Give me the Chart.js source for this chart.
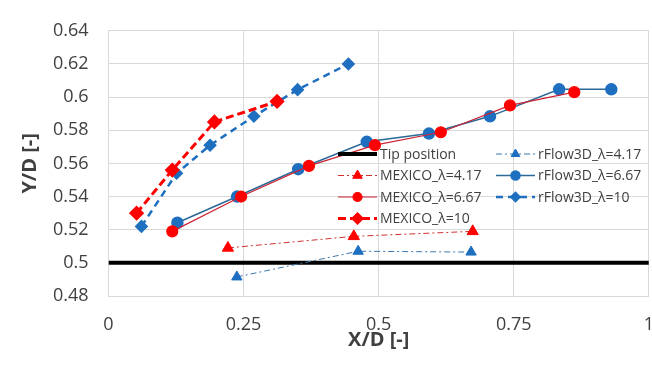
<!DOCTYPE html>
<html>
<head>
<meta charset="utf-8">
<script src="https://cdn.jsdelivr.net/npm/chart.js@4/dist/chart.umd.min.js"></script>
<style>
  html, body { margin: 0; padding: 0; background: #fff; overflow: hidden; }
  #wrap { width: 672px; height: 371px; position: relative; }
</style>
</head>
<body>
<div id="wrap"><canvas id="chart"></canvas></div>
<script>
// axis ticks
const xTicks = [0, 0.25, 0.5, 0.75, 1];
const yTicks = [0.48, 0.5, 0.52, 0.54, 0.56, 0.58, 0.6, 0.62, 0.64];

// tip position
const tipX = [0, 1];
const tipY = [0.5, 0.5];

// MEXICO measurements
const mexico417X = [0.221, 0.454, 0.674];
const mexico417Y = [0.509, 0.516, 0.519];
const mexico667X = [0.118, 0.2455, 0.371, 0.493, 0.615, 0.743, 0.862];
const mexico667Y = [0.519, 0.540, 0.5585, 0.571, 0.5788, 0.595, 0.603];
const mexico10X = [0.052, 0.118, 0.196, 0.312];
const mexico10Y = [0.530, 0.556, 0.585, 0.5974];

// rFlow3D results
const rflow417X = [0.2375, 0.462, 0.671];
const rflow417Y = [0.4915, 0.507, 0.5065];
const rflow667X = [0.1275, 0.238, 0.351, 0.478, 0.593, 0.706, 0.834, 0.9305];
const rflow667Y = [0.5242, 0.540, 0.5565, 0.573, 0.578, 0.5884, 0.6047, 0.6047];
const rflow10X = [0.061, 0.126, 0.188, 0.269, 0.350, 0.444];
const rflow10Y = [0.522, 0.554, 0.571, 0.5884, 0.6045, 0.620];

const RED = '#ff0000';
const BLUE = '#1f6fc0';

const pts = (xs, ys) => xs.map((x, i) => ({ x: x, y: ys[i] }));

const datasets = [
  { label: 'MEXICO_\u03bb=10', data: pts(mexico10X, mexico10Y), borderColor: RED, borderWidth: 3,
    borderDash: [8, 4], pointStyle: 'rectRot', pointRadius: 5.5, pointBackgroundColor: RED, pointBorderColor: RED },
  { label: 'MEXICO_\u03bb=6.67', data: pts(mexico667X, mexico667Y), borderColor: '#cc2233', borderWidth: 1.2,
    pointStyle: 'circle', pointRadius: 5.5, pointBackgroundColor: RED, pointBorderColor: RED },
  { label: 'MEXICO_\u03bb=4.17', data: pts(mexico417X, mexico417Y), borderColor: '#d03030', borderWidth: 1,
    borderDash: [6, 3, 2, 3], pointStyle: 'triangle', pointRadius: 6.5, pointBackgroundColor: RED, pointBorderColor: RED },
  { label: 'rFlow3D_\u03bb=10', data: pts(rflow10X, rflow10Y), borderColor: BLUE, borderWidth: 2.5,
    borderDash: [7, 5], pointStyle: 'rectRot', pointRadius: 5, pointBackgroundColor: BLUE, pointBorderColor: BLUE },
  { label: 'rFlow3D_\u03bb=6.67', data: pts(rflow667X, rflow667Y), borderColor: '#2a6a98', borderWidth: 1.5,
    pointStyle: 'circle', pointRadius: 5.5, pointBackgroundColor: BLUE, pointBorderColor: BLUE },
  { label: 'rFlow3D_\u03bb=4.17', data: pts(rflow417X, rflow417Y), borderColor: '#3a78b0', borderWidth: 1,
    borderDash: [6, 3, 2, 3], pointStyle: 'triangle', pointRadius: 6, pointBackgroundColor: BLUE, pointBorderColor: BLUE },
  { label: 'Tip position', data: pts(tipX, tipY), borderColor: '#000', borderWidth: 4, pointRadius: 0 },
];

// legend slots: [label, column, row]
const legendSlots = [
  ['Tip position', 0, 0], ['MEXICO_\u03bb=4.17', 0, 1], ['MEXICO_\u03bb=6.67', 0, 2], ['MEXICO_\u03bb=10', 0, 3],
  ['rFlow3D_\u03bb=4.17', 1, 0], ['rFlow3D_\u03bb=6.67', 1, 1], ['rFlow3D_\u03bb=10', 1, 2],
];

const insideLegend = {
  id: 'insideLegend',
  afterDraw(chart) {
    const ctx = chart.ctx;
    const colX = [338, 496];
    const rowY = [154, 175.5, 197, 218.5];
    const sample = 39;
    ctx.save();
    ctx.font = '14px "Open Sans"';
    ctx.textBaseline = 'middle';
    legendSlots.forEach(([label, col, row]) => {
      const ds = chart.data.datasets.find(d => d.label === label);
      const x0 = colX[col], y = rowY[row];
      ctx.setLineDash(ds.borderDash || []);
      ctx.lineWidth = ds.borderWidth;
      ctx.strokeStyle = ds.borderColor;
      ctx.beginPath();
      ctx.moveTo(x0, y);
      ctx.lineTo(x0 + sample, y);
      ctx.stroke();
      ctx.setLineDash([]);
      if (ds.pointRadius > 0) {
        ctx.fillStyle = ds.pointBackgroundColor;
        ctx.strokeStyle = ds.pointBorderColor;
        Chart.helpers.drawPoint(ctx, { pointStyle: ds.pointStyle, radius: ds.pointRadius - 1, rotation: 0, borderWidth: 1 }, x0 + sample / 2, y);
      }
      ctx.fillStyle = '#404040';
      ctx.fillText(label, x0 + sample + 3, y + 1);
    });
    ctx.restore();
  }
};

new Chart(document.getElementById('chart').getContext('2d'), {
  type: 'line',
  data: { datasets: datasets },
  plugins: [insideLegend],
  options: {
    responsive: true,
    maintainAspectRatio: false,
    animation: false,
    layout: { padding: { top: 17, right: 5, left: 0, bottom: 0 } },
    plugins: { legend: { display: false }, tooltip: { enabled: false } },
    scales: {
      x: {
        type: 'linear', min: 0, max: 1,
        afterBuildTicks: s => { s.ticks = xTicks.map(v => ({ value: v })); },
        afterFit: s => { s.height = 75; },
        grid: { color: '#d9d9d9', drawTicks: false },
        border: { color: '#d9d9d9' },
        ticks: { padding: 18, color: '#404040', font: { family: 'Open Sans', size: 18 },
          callback: v => String(parseFloat(v.toFixed(2))) },
        title: { display: true, text: 'X/D [-]', color: '#404040', font: { family: 'Open Sans', size: 20, weight: 'bold' },
          padding: { top: 0, bottom: 19 } }
      },
      y: {
        type: 'linear', min: 0.48, max: 0.64,
        afterBuildTicks: s => { s.ticks = yTicks.map(v => ({ value: v })); },
        afterFit: s => { s.width = 108.5; },
        grid: { color: '#d9d9d9', drawTicks: false },
        border: { color: '#d9d9d9' },
        ticks: { padding: 20, color: '#404040', font: { family: 'Open Sans', size: 18 },
          callback: v => String(parseFloat(v.toFixed(2))) },
        title: { display: true, text: 'Y/D [-]', color: '#404040', font: { family: 'Open Sans', size: 20, weight: 'bold' },
          padding: { top: 18, bottom: 0 } }
      }
    }
  }
});
</script>
</body>
</html>
